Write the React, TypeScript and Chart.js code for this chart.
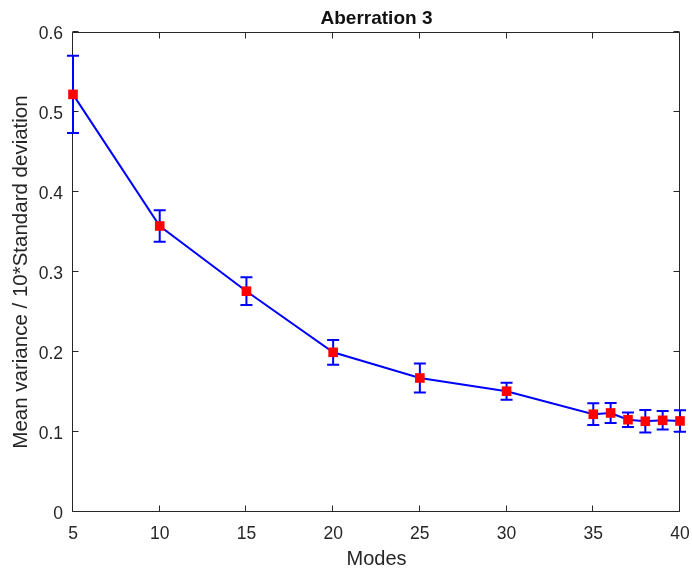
import { useEffect, useRef } from 'react';
import { Chart, registerables } from 'chart.js';

Chart.register(...registerables);

// Number of modes used in each reconstruction
const modes = [5, 10, 15, 20, 25, 30, 35, 36, 37, 38, 39, 40];
// Mean variance for each mode count
const meanValues = [0.522, 0.3575, 0.276, 0.1996, 0.1675, 0.151, 0.1222, 0.1238, 0.1154, 0.1134, 0.1146, 0.1138];
// Standard deviation (x10) shown as symmetric error bars
const stdErrors = [0.0483, 0.0197, 0.0173, 0.0155, 0.0181, 0.0106, 0.0136, 0.0125, 0.009, 0.014, 0.0115, 0.0134];

const xTickLabels = ['5', '10', '15', '20', '25', '30', '35', '40'];
const yTickLabels = ['0', '0.1', '0.2', '0.3', '0.4', '0.5', '0.6'];

const AXIS_COLOR = '#262626';
const LINE_COLOR = '#0000ff';
const MARKER_COLOR = '#ff0000';
const FONT = '"Liberation Sans", Arial, Helvetica, sans-serif';
const TICK_LEN = 6;
const CAP_HALF = 6;

// Draws the axes box with inward ticks, then the error bars, underneath the line and markers
const axesAndErrorBars = {
  id: 'axesAndErrorBars',
  beforeDatasetsDraw(chart: any) {
    const { ctx, chartArea, scales } = chart;
    const x = scales.x;
    const y = scales.y;
    const l = Math.round(chartArea.left) - 0.5;
    const r = Math.round(chartArea.right) - 0.5;
    const t = Math.round(chartArea.top) + 0.5;
    const b = Math.round(chartArea.bottom) - 0.5;

    ctx.save();
    ctx.strokeStyle = AXIS_COLOR;
    ctx.lineWidth = 1;
    ctx.beginPath();
    ctx.rect(l, t, r - l, b - t);
    x.ticks.forEach((tk: any) => {
      const px = Math.round(x.getPixelForValue(tk.value)) - 0.5;
      ctx.moveTo(px, b);
      ctx.lineTo(px, b - TICK_LEN);
      ctx.moveTo(px, t);
      ctx.lineTo(px, t + TICK_LEN);
    });
    y.ticks.forEach((tk: any) => {
      const py = Math.round(y.getPixelForValue(tk.value)) - 0.5;
      ctx.moveTo(l, py);
      ctx.lineTo(l + TICK_LEN, py);
      ctx.moveTo(r, py);
      ctx.lineTo(r - TICK_LEN, py);
    });
    ctx.stroke();

    ctx.strokeStyle = LINE_COLOR;
    ctx.lineWidth = 2;
    ctx.beginPath();
    modes.forEach((m, i) => {
      const px = x.getPixelForValue(m);
      const top = y.getPixelForValue(meanValues[i] + stdErrors[i]);
      const bot = y.getPixelForValue(meanValues[i] - stdErrors[i]);
      ctx.moveTo(px, top);
      ctx.lineTo(px, bot);
      ctx.moveTo(px - CAP_HALF, top);
      ctx.lineTo(px + CAP_HALF, top);
      ctx.moveTo(px - CAP_HALF, bot);
      ctx.lineTo(px + CAP_HALF, bot);
    });
    ctx.stroke();
    ctx.restore();
  },
};

export default function App() {
  const canvasRef = useRef<HTMLCanvasElement | null>(null);

  useEffect(() => {
    if (!canvasRef.current) return;
    const chart = new Chart(canvasRef.current, {
      type: 'line',
      data: {
        datasets: [
          {
            data: modes.map((m, i) => ({ x: m, y: meanValues[i] })),
            borderColor: LINE_COLOR,
            borderWidth: 2,
            tension: 0,
            fill: false,
            clip: false as any,
            pointStyle: 'rect',
            pointRadius: 6.8,
            pointBackgroundColor: MARKER_COLOR,
            pointBorderColor: MARKER_COLOR,
            pointBorderWidth: 0,
          },
        ],
      },
      options: {
        animation: false,
        responsive: false,
        devicePixelRatio: 1,
        layout: { padding: { left: 0, right: 12, top: 0, bottom: 0 } },
        plugins: {
          legend: { display: false },
          tooltip: { enabled: false },
          title: {
            display: true,
            text: 'Aberration 3',
            fullSize: false,
            color: '#111111',
            font: { family: FONT, size: 19, weight: 'bold' },
            padding: { top: 7.8, bottom: 1.4 },
          },
        },
        scales: {
          x: {
            type: 'linear',
            min: 5,
            max: 40,
            grid: { display: false, drawTicks: false },
            border: { display: false },
            ticks: {
              stepSize: 5,
              padding: 11.5,
              color: AXIS_COLOR,
              maxRotation: 0,
              autoSkip: false,
              font: { family: FONT, size: 17.5 },
              callback: (_v: any, i: number) => xTickLabels[i],
            },
            title: {
              display: true,
              text: 'Modes',
              color: AXIS_COLOR,
              font: { family: FONT, size: 20 },
              padding: { top: 0, bottom: 1 },
            },
            afterFit: (s: any) => {
              s.height = 60;
              s.paddingLeft = 0;
              s.paddingRight = 0;
            },
          },
          y: {
            type: 'linear',
            min: 0,
            max: 0.6,
            grid: { display: false, drawTicks: false },
            border: { display: false },
            ticks: {
              stepSize: 0.1,
              padding: 10,
              labelOffset: 2,
              color: AXIS_COLOR,
              font: { family: FONT, size: 17.5 },
              callback: (_v: any, i: number) => yTickLabels[i],
            },
            title: {
              display: true,
              text: 'Mean variance / 10*Standard deviation',
              color: AXIS_COLOR,
              font: { family: FONT, size: 20.5 },
              padding: { top: 9.4, bottom: 0 },
            },
            afterFit: (s: any) => {
              s.width = 73;
            },
          },
        },
      },
      plugins: [axesAndErrorBars],
    });
    return () => chart.destroy();
  }, []);

  return (
    <div style={{ position: 'absolute', left: 0, top: 0, width: 692, height: 572, background: '#ffffff' }}>
      <canvas ref={canvasRef} width={692} height={572} />
    </div>
  );
}
